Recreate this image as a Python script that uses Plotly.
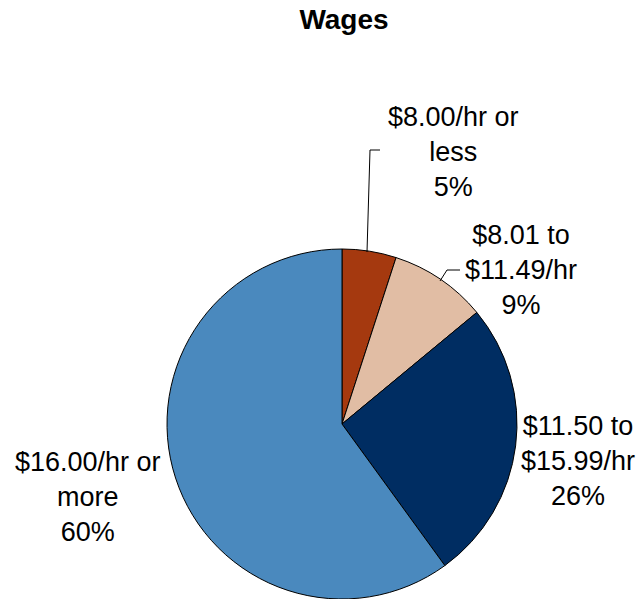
import plotly.graph_objects as go

labels = ["$8.00/hr or less", "$8.01 to $11.49/hr", "$11.50 to $15.99/hr", "$16.00/hr or more"]
label_lines = ["$8.00/hr or<br>less", "$8.01 to<br>$11.49/hr", "$11.50 to<br>$15.99/hr", "$16.00/hr or<br>more"]
values = [5, 9, 26, 60]
colors = ["#A5390F", "#E1BDA4", "#002D62", "#4A89BE"]

W, H = 642, 599
FONT = "Liberation Sans, Arial, sans-serif"

def px(x, y):
    return x / W, 1 - y / H

fig = go.Figure()
fig.add_trace(go.Pie(
    labels=labels, values=values, sort=False, direction="clockwise", rotation=0,
    marker=dict(colors=colors, line=dict(color="black", width=1)),
    textinfo="none", hoverinfo="label+percent", showlegend=False,
    domain=dict(x=[167 / W, 517 / W], y=[0, 350 / H]),
))

# label centres in pixels
label_pos = [(453, 152), (521, 270), (578, 461), (88, 497)]
total = sum(values)
for txt, v, (x, y) in zip(label_lines, values, label_pos):
    xp, yp = px(x, y)
    fig.add_annotation(
        text=f"{txt}<br>{round(100 * v / total)}%", x=xp, y=yp, xref="paper", yref="paper",
        xanchor="center", yanchor="middle", showarrow=False, align="center",
        font=dict(family=FONT, size=27, color="black"),
    )

# leader lines
leaders = [[(367, 252), (370, 150), (380, 150)], [(440, 281), (447, 270), (460, 270)]]
for pts in leaders:
    path = ""
    for i, (x, y) in enumerate(pts):
        xp, yp = px(x, y)
        path += ("M" if i == 0 else "L") + f"{xp},{yp} "
    fig.add_shape(type="path", path=path.strip(), xref="paper", yref="paper",
                  line=dict(color="black", width=1))

fig.update_layout(
    width=W, height=H, margin=dict(l=0, r=0, t=0, b=0),
    paper_bgcolor="white", plot_bgcolor="white",
    title=dict(text="<b>Wages</b>", x=344 / W, xanchor="center", y=1 - 19 / H, yanchor="middle",
               font=dict(family=FONT, size=28, color="black")),
)

fig.write_html("out.html", config={"displayModeBar": False},
               post_script="document.body.style.margin='0';")
